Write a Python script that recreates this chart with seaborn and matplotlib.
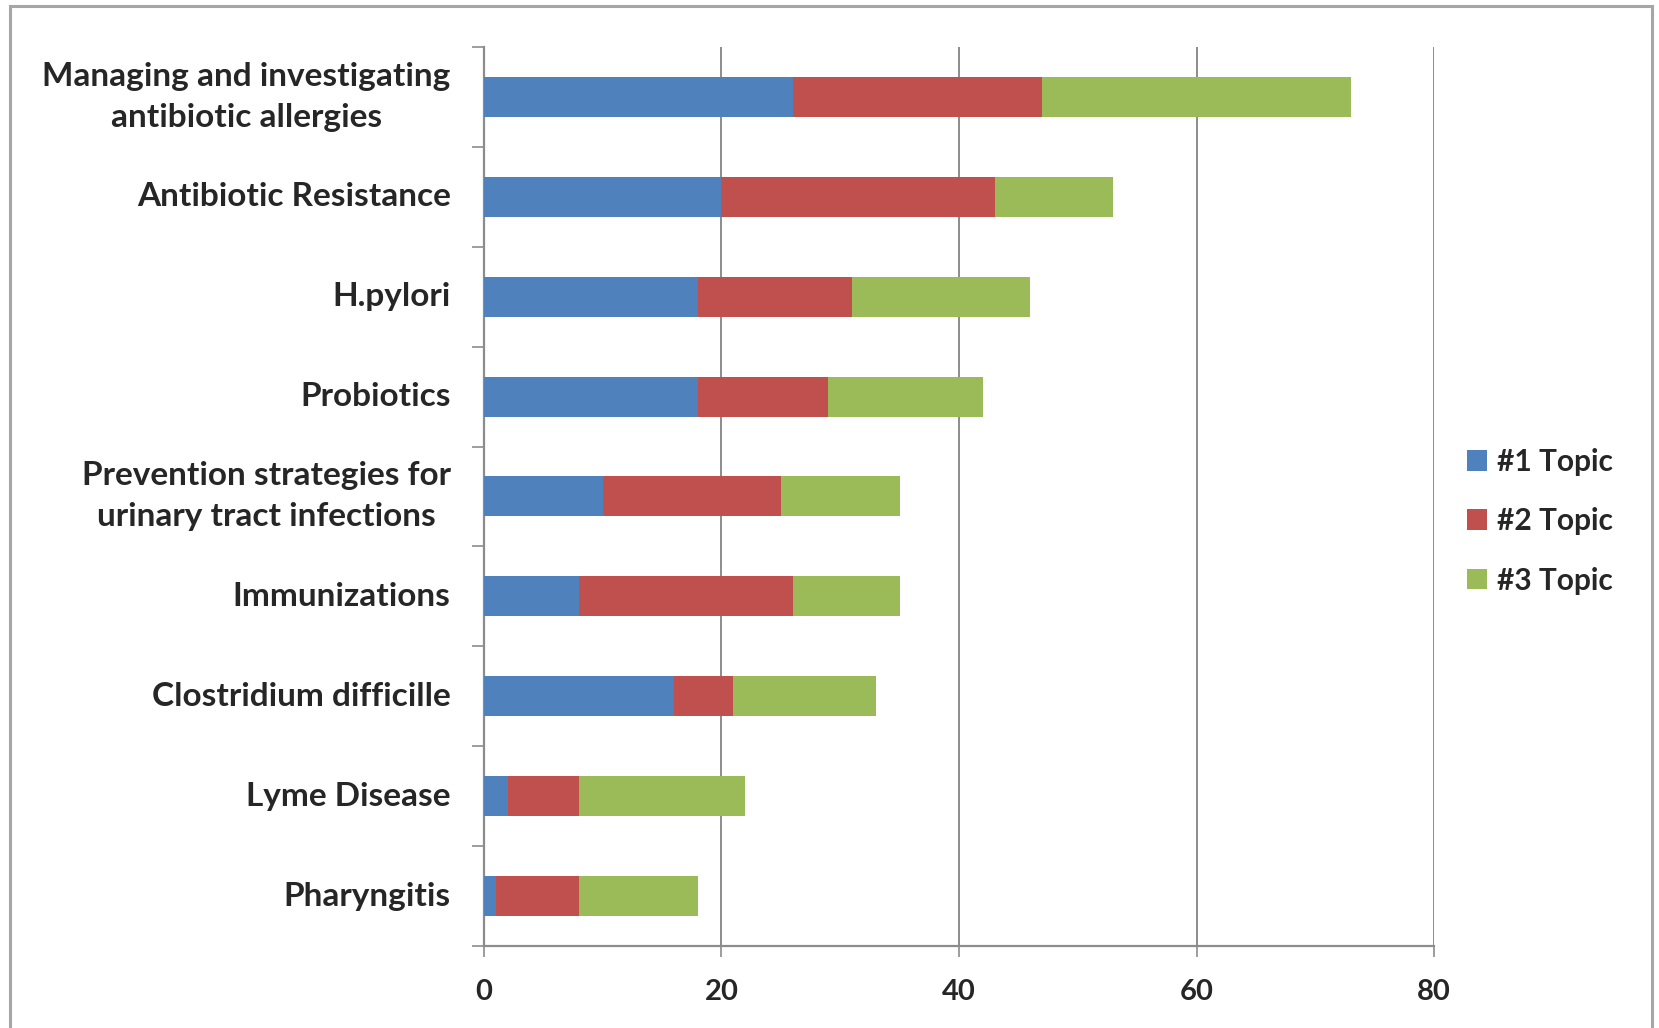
import matplotlib
matplotlib.use("Agg")
import matplotlib.pyplot as plt
from matplotlib.patches import Patch, Rectangle
import numpy as np
import pandas as pd
import seaborn as sns

# Survey topics, ranked by total votes
topics = [
    "Managing and investigating\nantibiotic allergies",
    "Antibiotic Resistance",
    "H.pylori",
    "Probiotics",
    "Prevention strategies for\nurinary tract infections",
    "Immunizations",
    "Clostridium difficille",
    "Lyme Disease",
    "Pharyngitis",
]
topic1 = [26, 20, 18, 18, 10, 8, 16, 2, 1]
topic2 = [21, 23, 13, 11, 15, 18, 5, 6, 7]
topic3 = [26, 10, 15, 13, 10, 9, 12, 14, 10]
series_names = ["#1 Topic", "#2 Topic", "#3 Topic"]
series_colors = ["#4F81BD", "#C0504D", "#9BBB59"]
x_ticks = [0, 20, 40, 60, 80]

sns.set_theme(style="white")
plt.rcParams["font.family"] = ["Lato", "DejaVu Sans"]
plt.rcParams["font.weight"] = "bold"

df = pd.DataFrame({"topic": topics, "t1": topic1, "t2": topic2, "t3": topic3})
df["c1"] = df["t1"]
df["c2"] = df["t1"] + df["t2"]
df["c3"] = df["t1"] + df["t2"] + df["t3"]

fig = plt.figure(figsize=(16.59, 10.28), dpi=100)
ax = fig.add_axes([0.2917, 0.0798, 0.8645 - 0.2917, 0.9543 - 0.0798])

# Stacked bars: draw cumulative totals from the outermost segment inwards
for col, color in zip(["c3", "c2", "c1"], series_colors[::-1]):
    sns.barplot(data=df, x=col, y="topic", orient="h", color=color,
                width=0.4, saturation=1, ax=ax, linewidth=0, zorder=3)

ax.set_xlim(0, 80)
ax.set_ylim(8.5, -0.5)
ax.set_xlabel("")
ax.set_ylabel("")

grid_col = "#8C8C8C"
ax.set_xticks(x_ticks)
ax.set_xticklabels([str(v) for v in x_ticks], fontsize=21, fontweight="bold")
for v in x_ticks[1:]:
    ax.axvline(v, color=grid_col, lw=1.4, zorder=1)

for s in ["top", "right"]:
    ax.spines[s].set_visible(False)
for s in ["left", "bottom"]:
    ax.spines[s].set_visible(True)
    ax.spines[s].set_color(grid_col)
    ax.spines[s].set_linewidth(1.6)

ax.tick_params(axis="x", which="major", direction="out", length=8, width=1.2,
               color=grid_col, pad=16, bottom=True)
# category labels, with ticks at the boundaries between categories
ax.set_yticks(np.arange(len(topics)))
ax.set_yticklabels(topics, fontsize=24, fontweight="bold",
                   multialignment="center", linespacing=1.5,
                   verticalalignment="center")
ax.tick_params(axis="y", which="major", length=0, pad=24, left=True)
ax.set_yticks(np.arange(-0.5, len(topics), 1.0), minor=True)
ax.tick_params(axis="y", which="minor", direction="out", length=9, width=1.2,
               color=grid_col, left=True)

handles = [Patch(facecolor=c, edgecolor="none") for c in series_colors]
fig.legend(handles, series_names, loc="center left",
           bbox_to_anchor=(0.884, 0.493), frameon=False,
           prop={"weight": "bold", "size": 21.5},
           handlelength=0.68, handleheight=0.68, handletextpad=0.35,
           labelspacing=1.05, borderpad=0, borderaxespad=0)

# outer chart frame
fig.patches.append(Rectangle((10 / 1659, -0.02), (1652 - 10) / 1659, 1.02 - 6 / 1028,
                             transform=fig.transFigure, fill=False,
                             edgecolor="#A6A6A6", linewidth=2.2))

fig.savefig("out.png", dpi=100)
